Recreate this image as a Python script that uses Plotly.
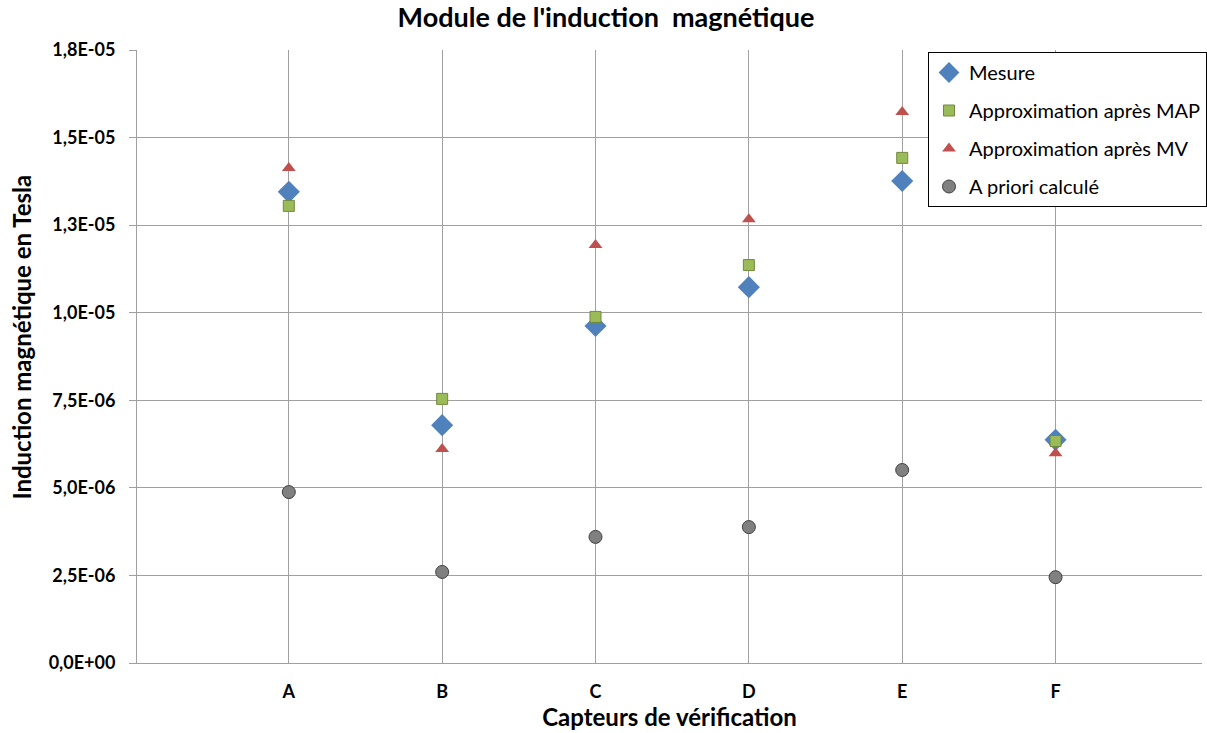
import plotly.graph_objects as go

categories = ["A", "B", "C", "D", "E", "F"]
mesure = [13.45e-6, 6.79e-6, 9.62e-6, 10.73e-6, 13.76e-6, 6.37e-6]
approx_map = [13.05e-6, 7.54e-6, 9.88e-6, 11.36e-6, 14.42e-6, 6.34e-6]
approx_mv = [14.13e-6, 6.11e-6, 11.93e-6, 12.67e-6, 15.73e-6, 5.99e-6]
priori = [4.88e-6, 2.60e-6, 3.60e-6, 3.88e-6, 5.51e-6, 2.45e-6]

tick_vals = [0, 2.5e-6, 5e-6, 7.5e-6, 1e-5, 1.25e-5, 1.5e-5, 1.75e-5]
tick_text = ["0,0E+00", "2,5E-06", "5,0E-06", "7,5E-06", "1,0E-05", "1,3E-05", "1,5E-05", "1,8E-05"]

xpos = list(range(len(categories)))
FONT = "Lato, 'Open Sans', sans-serif"

W, H = 1207, 733
L, R, T, B = 137, 0, 50, 70
PW, PH = W - L - R, H - T - B

fig = go.Figure()
fig.add_trace(go.Scatter(x=xpos, y=mesure, mode="markers", name="Mesure", legendgroup="g1",
                         marker=dict(symbol="diamond", size=17, color="#4F81BD",
                                     line=dict(color="#4F81BD", width=0))))
fig.add_trace(go.Scatter(x=xpos, y=approx_map, mode="markers", name="Approximation après MAP", legendgroup="g2",
                         marker=dict(symbol="square", size=11, color="#9BBB59",
                                     line=dict(color="#71893F", width=1))))
fig.add_trace(go.Scatter(x=xpos, y=approx_mv, mode="markers", name="Approximation après MV", legendgroup="g3",
                         marker=dict(symbol="triangle-up", size=12, color="#C0504D",
                                     line=dict(color="#C0504D", width=0))))
fig.add_trace(go.Scatter(x=xpos, y=priori, mode="markers", name="A priori calculé", legendgroup="g4",
                         marker=dict(symbol="circle", size=13, color="#808080",
                                     line=dict(color="#404040", width=1))))

fig.update_layout(
    width=W, height=H,
    margin=dict(l=L, r=R, t=T, b=B),
    plot_bgcolor="white", paper_bgcolor="white",
    font=dict(family=FONT, color="#000000"),
    title=dict(text="<b>Module de l'induction  magnétique</b>", x=606 / W, xanchor="center",
               y=1 - 18 / H, yanchor="middle", font=dict(size=27, family=FONT)),
    xaxis=dict(
        range=[-0.99, 5.955], tickmode="array", tickvals=xpos, ticktext=["<b>%s</b>" % c for c in categories],
        showgrid=True, gridcolor="#A0A0A0", gridwidth=1,
        showline=True, linecolor="#A0A0A0", zeroline=False,
        ticks="", tickfont=dict(size=18), ticklabelstandoff=12,
        title=dict(text="<b>Capteurs de vérification</b>", font=dict(size=24), standoff=6),
    ),
    yaxis=dict(
        range=[0, 1.75e-5], tickmode="array", tickvals=tick_vals, ticktext=["<b>%s</b>" % t for t in tick_text],
        showgrid=True, gridcolor="#A0A0A0", gridwidth=1,
        showline=True, linecolor="#A0A0A0", zeroline=False,
        ticks="outside", ticklen=7, tickcolor="#A0A0A0", tickfont=dict(size=18), ticklabelstandoff=10,
    ),
    legend=dict(
        x=(932 - L) / PW, y=1 - 2 / PH, xanchor="left", yanchor="top",
        bgcolor="white", bordercolor="#000000", borderwidth=1,
        font=dict(size=20), tracegroupgap=9, itemwidth=30,
    ),
    annotations=[dict(
        text="<b>Induction magnétique en Tesla</b>", textangle=-90,
        xref="paper", yref="paper", x=(20 - L) / PW, y=(H - B - 337) / PH,
        xanchor="center", yanchor="middle", showarrow=False,
        font=dict(size=24, family=FONT),
    )],
)

fig.write_html("out.html", config={"displayModeBar": False},
               post_script="document.body.style.margin='0';document.body.style.overflow='hidden';")
